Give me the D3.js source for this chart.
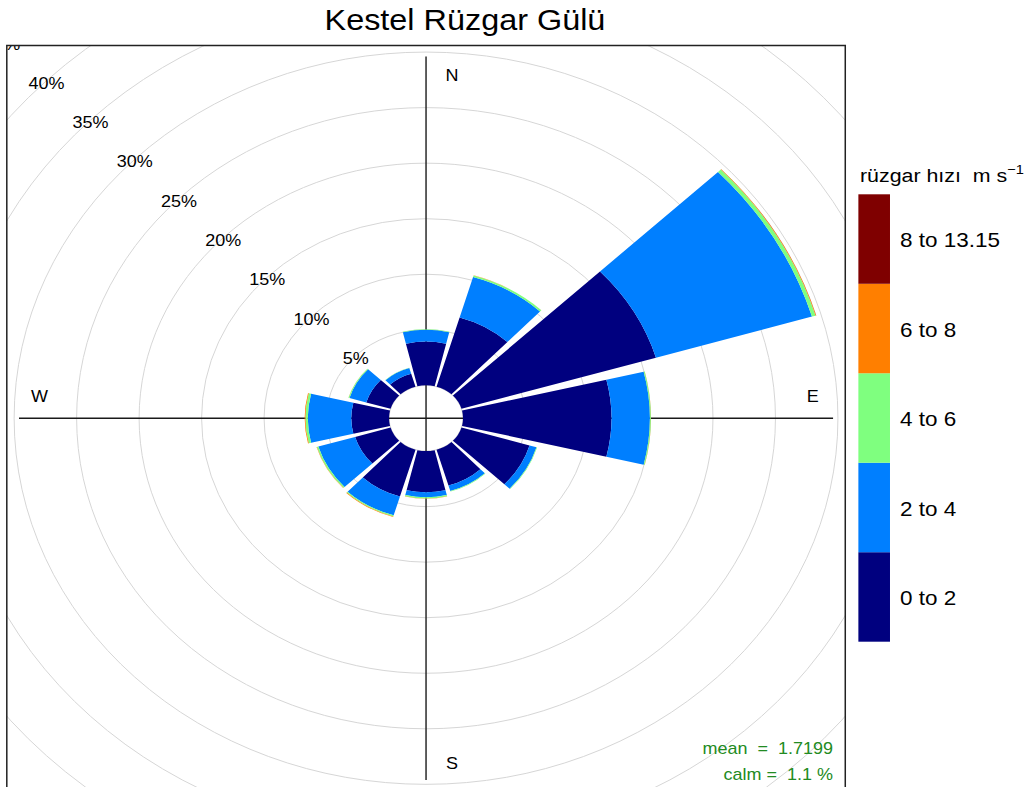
<!DOCTYPE html>
<html>
<head>
<meta charset="utf-8">
<script src="https://cdn.jsdelivr.net/npm/d3@7"></script>
<style>
    body { margin: 0; background: #fff; }
    text { font-family: "Liberation Sans", Arial, sans-serif; fill: #000; }
</style>
</head>
<body>
<svg id="mainSvg" width="1034" height="787"></svg>
<script>
// wind directions (degrees, clockwise from N)
const directions = [0, 30, 60, 90, 120, 150, 180, 210, 240, 270, 300, 330];
// frequency (%) of each speed bin per direction
const freq0to2 = [3.94, 6.50, 16.23, 11.88, 5.68, 3.36, 3.71, 4.39, 2.96, 3.02, 2.03, 1.22];
const freq2to4 = [1.05, 3.79, 13.02, 3.07, 0.58, 0.52, 0.45, 1.77, 3.07, 3.48, 1.40, 0.54];
const freq4to6 = [0.05, 0.15, 0.30, 0.08, 0.05, 0.05, 0.10, 0.10, 0.12, 0.19, 0.08, 0.02];
const freq6to8 = [0.00, 0.01, 0.05, 0.01, 0.00, 0.00, 0.02, 0.05, 0.03, 0.06, 0.01, 0.00];
const freq8to13 = [0.00, 0.00, 0.01, 0.00, 0.00, 0.00, 0.00, 0.00, 0.00, 0.00, 0.00, 0.00];
const speedBins = ["0 to 2", "2 to 4", "4 to 6", "6 to 8", "8 to 13.15"];
const binColors = ["#00007F", "#007FFF", "#7FFF7F", "#FF7F00", "#7F0000"];
const ringPercents = [0, 5, 10, 15, 20, 25, 30, 35, 40, 45, 50, 55];
const compass = [["N", 0], ["E", 90], ["S", 180], ["W", 270]];
const meanSpeed = "1.7199", calmPct = "1.1";

let svg = d3.select('#mainSvg');
const xStretch = 1.125; // the reference is drawn wider than tall
const cx = 378.7, cy = 418.2;
const segHalf = 13.5; // half width of a petal (deg)

const series = [freq0to2, freq2to4, freq4to6, freq6to8, freq8to13];
const totals = directions.map((d, i) => d3.sum(series, s => s[i]));
const maxFreq = d3.max(totals);
const offSet = maxFreq * 0.1;
const lim = maxFreq + offSet;

const r = d3.scaleLinear().domain([0, lim]).range([0, 361.8]);

let root = svg.append("g").attr("transform", `scale(${xStretch},1)`);

/**
 * panel + clip
 */
const pHalf = r(lim) * 1.03;
root.append("clipPath").attr("id", "panelClip")
    .append("rect")
    .attr("x", -pHalf).attr("y", -pHalf)
    .attr("width", pHalf * 2).attr("height", pHalf * 2);

let plot = root.append("g")
    .attr("transform", `translate(${cx},${cy})`)
    .append("g")
    .attr("clip-path", "url(#panelClip)");

// grid rings
plot.selectAll("circle.ring").data(ringPercents).join("circle")
    .attr("class", "ring")
    .attr("r", d => r(offSet + d))
    .attr("fill", "none")
    .attr("stroke", "#d6d6d6")
    .attr("stroke-width", 1)
    .attr("vector-effect", "non-scaling-stroke");

// axis lines (drawn under petals)
plot.append("line")
    .attr("x1", -r(lim)).attr("x2", r(lim)).attr("y1", 0).attr("y2", 0)
    .attr("stroke", "#1a1a1a").attr("stroke-width", 1.4)
    .attr("vector-effect", "non-scaling-stroke");
plot.append("line")
    .attr("x1", 0).attr("x2", 0).attr("y1", -r(lim)).attr("y2", r(lim))
    .attr("stroke", "#1a1a1a").attr("stroke-width", 1.4)
    .attr("vector-effect", "non-scaling-stroke");

// stacked petal segments
let segs = [];
directions.forEach((wd, i) => {
    let cum = 0;
    series.forEach((s, j) => {
        segs.push({wd: wd, bin: j, r0: offSet + cum, r1: offSet + cum + s[i]});
        cum += s[i];
    });
});
const arc = d3.arc()
    .innerRadius(d => r(d.r0))
    .outerRadius(d => r(d.r1))
    .startAngle(d => (d.wd - segHalf) * Math.PI / 180)
    .endAngle(d => (d.wd + segHalf) * Math.PI / 180);

plot.selectAll("path.seg").data(segs.filter(d => d.r1 > d.r0)).join("path")
    .attr("class", "seg")
    .attr("d", arc)
    .attr("fill", d => binColors[d.bin]);

// ring labels along 315 deg
plot.selectAll("text.ringLab").data(ringPercents.filter(d => d > 0)).join("text")
    .attr("class", "ringLab")
    .attr("x", d => -r(offSet + d) * Math.SQRT1_2)
    .attr("y", d => -r(offSet + d) * Math.SQRT1_2 + 3)
    .attr("text-anchor", "middle")
    .attr("dominant-baseline", "central")
    .attr("font-size", 16)
    .text(d => d + "%");

// compass letters
const compassPos = {N: [0.064, -0.945], E: [0.95, -0.058], S: [0.064, 0.955], W: [-0.95, -0.058]};
plot.selectAll("text.cmp").data(compass).join("text")
    .attr("class", "cmp")
    .attr("x", d => r(lim) * compassPos[d[0]][0])
    .attr("y", d => r(lim) * compassPos[d[0]][1])
    .attr("text-anchor", "middle")
    .attr("dominant-baseline", "central")
    .attr("font-size", 16)
    .text(d => d[0]);

// mean / calm note
plot.append("text")
    .attr("x", r(lim)).attr("y", r(lim) - 26)
    .attr("text-anchor", "end")
    .attr("font-size", 16)
    .style("fill", "#228B22")
    .attr("xml:space", "preserve")
    .text("mean  =  " + meanSpeed);
plot.append("text")
    .attr("x", r(lim)).attr("y", r(lim))
    .attr("text-anchor", "end")
    .attr("font-size", 16)
    .style("fill", "#228B22")
    .attr("xml:space", "preserve")
    .text("calm =  " + calmPct + " %");

// panel border
root.append("rect")
    .attr("x", cx - pHalf).attr("y", cy - pHalf)
    .attr("width", pHalf * 2).attr("height", pHalf * 2)
    .attr("fill", "none")
    .attr("stroke", "#222")
    .attr("stroke-width", 1.5)
    .attr("vector-effect", "non-scaling-stroke");

// title
root.append("text")
    .attr("x", 413.3).attr("y", 30)
    .attr("text-anchor", "middle")
    .attr("font-size", 28.8)
    .text("Kestel Rüzgar Gülü");

/**
 * legend
 */
const legY = d3.scaleBand().domain(speedBins.slice().reverse()).range([194.3, 641.7]);
let legend = root.append("g").attr("transform", "translate(763,0)");
legend.selectAll("rect").data(speedBins).join("rect")
    .attr("x", 0)
    .attr("y", d => legY(d))
    .attr("width", 28.1)
    .attr("height", legY.bandwidth())
    .attr("fill", (d, i) => binColors[i]);
legend.selectAll("text.legLab").data(speedBins).join("text")
    .attr("class", "legLab")
    .attr("x", 37)
    .attr("y", d => legY(d) + legY.bandwidth() / 2 + 1.5)
    .attr("dominant-baseline", "central")
    .attr("font-size", 20)
    .text(d => d);
let legTitle = legend.append("text")
    .attr("x", 1.4).attr("y", 182)
    .attr("font-size", 19)
    .attr("xml:space", "preserve")
    .text("rüzgar hızı  m s");
legTitle.append("tspan")
    .attr("font-size", 13)
    .attr("dy", -8)
    .text("−1");
</script>
</body>
</html>
